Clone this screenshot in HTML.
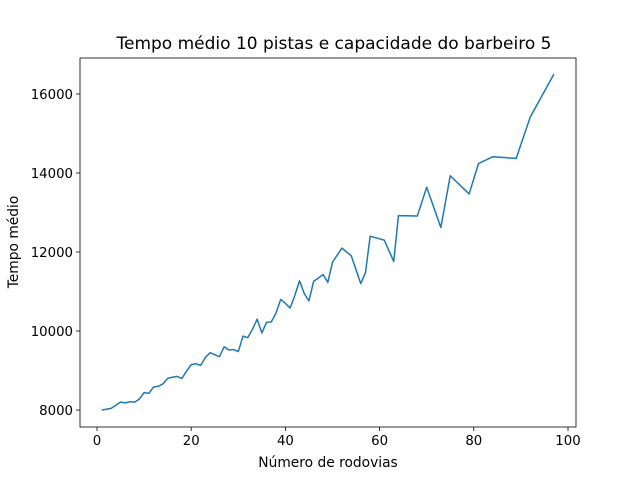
<!DOCTYPE html>
<html><head><meta charset="utf-8"><style>
body{margin:0;background:#fff}
svg text{font-family:"DejaVu Sans","Liberation Sans",sans-serif;fill:#000}
</style></head><body>
<svg id="chart" width="640" height="480">
<rect width="640" height="480" fill="#fff"/>
<text x="334" y="49" font-size="17" text-anchor="middle">Tempo médio 10 pistas e capacidade do barbeiro 5</text>
<g id="axes"></g>
<text x="328" y="467" font-size="13.8" text-anchor="middle">Número de rodovias</text>
<text transform="translate(18,242) rotate(-90)" font-size="13.8" text-anchor="middle">Tempo médio</text>
</svg>
<script>
const xs=[1,2,3,4,5,6,7,8,9,10,11,12,13,14,15,16,17,18,19,20,21,22,23,24,25,26,27,28,29,30,31,32,33,34,35,36,37,38,39,40,41,42,43,44,45,46,47,48,49,50,52,54,56,57,58,61,63,64,68,70,73,75,79,81,84,89,92,97];
const ys=[8000,8020,8040,8120,8200,8180,8210,8200,8280,8440,8420,8580,8600,8660,8800,8830,8850,8800,8980,9150,9170,9130,9330,9450,9400,9350,9600,9520,9530,9480,9870,9830,10040,10300,9950,10220,10230,10450,10800,10700,10580,10900,11270,10950,10760,11260,11340,11430,11230,11740,12100,11900,11200,11480,12400,12300,11760,12920,12910,13640,12620,13930,13470,14240,14410,14370,15420,16500];
const xTicks=[0,20,40,60,80,100];
const yTicks=[8000,10000,12000,14000,16000];
const ns="http://www.w3.org/2000/svg";
const L=80,R=576,T=58,B=427;
const X=v=>97+v*4.71;
const Y=v=>410-(v-8000)*0.0395;
const g=document.getElementById('axes');
function mk(t,a){const e=document.createElementNS(ns,t);for(const k in a)e.setAttribute(k,a[k]);g.appendChild(e);return e;}
xTicks.forEach(t=>{
 const l=mk('line',{x1:X(t),x2:X(t),y1:B,y2:B+4,stroke:'#000','stroke-width':0.8});
 
 
 const tx=mk('text',{x:X(t),y:B+18,'font-size':13.3,'text-anchor':'middle'});tx.textContent=t;
 
 
});
yTicks.forEach(t=>{
 const l=mk('line',{x1:L-4,x2:L,y1:Y(t),y2:Y(t),stroke:'#000','stroke-width':0.8});
 
 
 const tx=mk('text',{x:L-7,y:Y(t)+5,'font-size':13.3,'text-anchor':'end'});tx.textContent=t;
 
 
});
const p=mk('polyline',{points:xs.map((x,i)=>X(x)+','+Y(ys[i])).join(' '),fill:'none',stroke:'#1f77b4','stroke-width':1.5,'stroke-linejoin':'round'});


const f=mk('rect',{x:L,y:T,width:R-L,height:B-T,fill:'none',stroke:'#000','stroke-width':0.8});


</script>
</body></html>
